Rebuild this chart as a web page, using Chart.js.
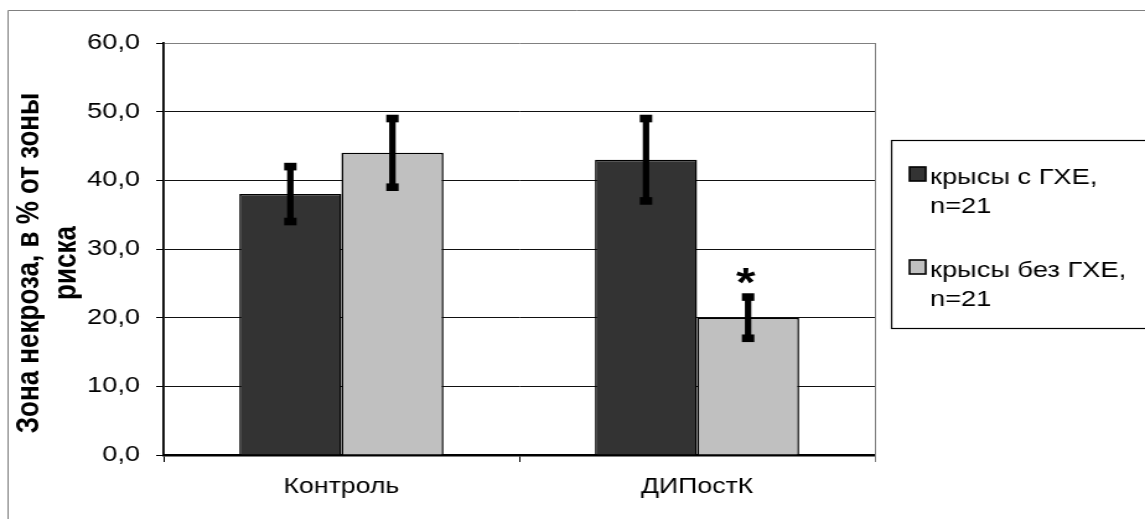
<!DOCTYPE html>
<html>
<head>
<meta charset="utf-8">
<script src="https://cdn.jsdelivr.net/npm/chart.js@4.4.1/dist/chart.umd.min.js"></script>
<style>
  html, body { margin: 0; padding: 0; background: #fff; overflow: hidden; }
  #wrap { position: absolute; left: 0; top: 0; width: 924px; height: 519px;
          transform: scaleX(1.23918); transform-origin: 0 0; }
</style>
</head>
<body>
<div id="wrap"><canvas id="c" width="924" height="519"></canvas></div>
<script>
// ---- data ----
const categories = ['Контроль', 'ДИПостК'];
const seriesNames = ['крысы с ГХЕ, n=21', 'крысы без ГХЕ, n=21'];
const legendLines = [['крысы с ГХЕ,', 'n=21'], ['крысы без ГХЕ,', 'n=21']];
const necrosisWithGHE = [38, 43];
const necrosisWithoutGHE = [44, 20];
const errorWithGHE = [4, 6];
const errorWithoutGHE = [5, 3];
const markWithGHE = ['', ''];
const markWithoutGHE = ['', '*'];
const yAxisTitle = ['Зона некроза, в % от зоны', 'риска'];
const yMin = 0, yMax = 60, yStep = 10;

const FONT = '"Liberation Sans", Arial, sans-serif';

const framePlugin = {
  id: 'frame',
  beforeDraw(chart) {
    const ctx = chart.ctx;
    ctx.save();
    ctx.fillStyle = '#fff';
    ctx.fillRect(0, 0, chart.width, chart.height);
    ctx.strokeStyle = '#808080';
    ctx.lineWidth = 1;
    ctx.beginPath();
    ctx.moveTo(6.5, chart.height);
    ctx.lineTo(6.5, 10.5);
    ctx.lineTo(chart.width, 10.5);
    ctx.stroke();
    ctx.restore();
  }
};

const errorBarPlugin = {
  id: 'errorBars',
  afterDatasetsDraw(chart) {
    const ctx = chart.ctx;
    const y = chart.scales.y;
    ctx.save();
    chart.data.datasets.forEach((ds, i) => {
      const meta = chart.getDatasetMeta(i);
      meta.data.forEach((bar, j) => {
        const v = ds.data[j], e = ds.errors[j];
        const yt = y.getPixelForValue(v + e);
        const yb = y.getPixelForValue(v - e);
        const x = bar.x;
        ctx.fillStyle = '#000';
        ctx.fillRect(x - 2.6, yt, 5.2, yb - yt);
        ctx.fillRect(x - 5, yt - 3.8, 10, 7.6);
        ctx.fillRect(x - 5, yb - 3.8, 10, 7.6);
        const m = ds.marks[j];
        if (m) {
          ctx.font = 'bold 40px ' + FONT;
          ctx.textAlign = 'center';
          ctx.textBaseline = 'alphabetic';
          const mt = ctx.measureText(m);
          const cy = yt - 21.5;
          const base = cy + (mt.actualBoundingBoxAscent - mt.actualBoundingBoxDescent) / 2;
          ctx.fillText(m, x - 2, base);
        }
      });
    });
    ctx.restore();
  }
};

const decorPlugin = {
  id: 'decor',
  afterDraw(chart) {
    const ctx = chart.ctx;
    const ca = chart.chartArea;
    ctx.save();
    // plot area right border
    ctx.strokeStyle = '#808080';
    ctx.lineWidth = 1;
    ctx.beginPath();
    ctx.moveTo(Math.round(ca.right) + 0.5, ca.top);
    ctx.lineTo(Math.round(ca.right) + 0.5, ca.bottom + 7);
    ctx.stroke();

    // y axis title (two lines, rotated)
    ctx.fillStyle = '#000';
    ctx.font = 'bold 26px ' + FONT;
    ctx.textAlign = 'center';
    ctx.textBaseline = 'middle';
    const cy = (ca.top + ca.bottom) / 2 + 14;
    const xs = [24.2, 53.5];
    yAxisTitle.forEach((t, k) => {
      ctx.save();
      ctx.translate(xs[k], cy);
      ctx.rotate(-Math.PI / 2);
      ctx.fillText(t, 0, 0);
      ctx.restore();
    });

    // legend
    const boxL = Math.round(ca.right) + 13.5;
    const boxT = 140.5, boxB = 328.5;
    ctx.strokeStyle = '#000';
    ctx.lineWidth = 1.2;
    ctx.strokeRect(boxL, boxT, chart.width - boxL + 20, boxB - boxT);
    ctx.font = '22px ' + FONT;
    ctx.textAlign = 'left';
    ctx.textBaseline = 'alphabetic';
    chart.data.datasets.forEach((ds, i) => {
      const base0 = 184 + i * 93;
      const mx = boxL + 14.5;
      ctx.fillStyle = ds.backgroundColor;
      ctx.fillRect(mx, base0 - 17, 13, 14);
      ctx.strokeStyle = '#000';
      ctx.lineWidth = 1.6;
      ctx.strokeRect(mx, base0 - 17, 13, 14);
      ctx.fillStyle = '#000';
      ds.legendLines.forEach((ln, k) => {
        ctx.fillText(ln, mx + 16.5, base0 + k * 29);
      });
    });
    ctx.restore();
  }
};

new Chart(document.getElementById('c'), {
  type: 'bar',
  data: {
    labels: categories,
    datasets: [
      { label: seriesNames[0], legendLines: legendLines[0], data: necrosisWithGHE,
        errors: errorWithGHE, marks: markWithGHE,
        backgroundColor: '#333333', borderColor: '#000', borderWidth: 1.5 },
      { label: seriesNames[1], legendLines: legendLines[1], data: necrosisWithoutGHE,
        errors: errorWithoutGHE, marks: markWithoutGHE,
        backgroundColor: '#c0c0c0', borderColor: '#000', borderWidth: 1.5 }
    ]
  },
  options: {
    responsive: false,
    animation: false,
    devicePixelRatio: 1,
    layout: { padding: { left: 0, top: 43, right: 218, bottom: 0 } },
    datasets: { bar: { categoryPercentage: 0.574, barPercentage: 1.0 } },
    plugins: { legend: { display: false }, tooltip: { enabled: false }, title: { display: false } },
    scales: {
      x: {
        offset: true,
        grid: { display: true, drawOnChartArea: false, drawTicks: true, tickLength: 7,
                offset: true, color: '#000', lineWidth: 1 },
        border: { display: true, color: '#000', width: 2.5 },
        ticks: { color: '#000', font: { family: FONT, size: 21.5 }, padding: 12, maxRotation: 0 },
        afterFit(s) { s.height = 64; }
      },
      y: {
        min: yMin, max: yMax,
        grid: {
          color: (c) => (c.tick && c.tick.value === yMax) ? '#808080' : '#111',
          tickColor: '#000', lineWidth: 1, drawTicks: true, tickLength: 6
        },
        border: { display: true, color: '#000', width: 1.8 },
        ticks: {
          stepSize: yStep, color: '#000', padding: 13,
          font: { family: FONT, size: 22 },
          callback: (v) => Number(v).toFixed(1).replace('.', ',')
        },
        afterFit(s) { s.width = 132; }
      }
    }
  },
  plugins: [framePlugin, errorBarPlugin, decorPlugin]
});
</script>
</body>
</html>
